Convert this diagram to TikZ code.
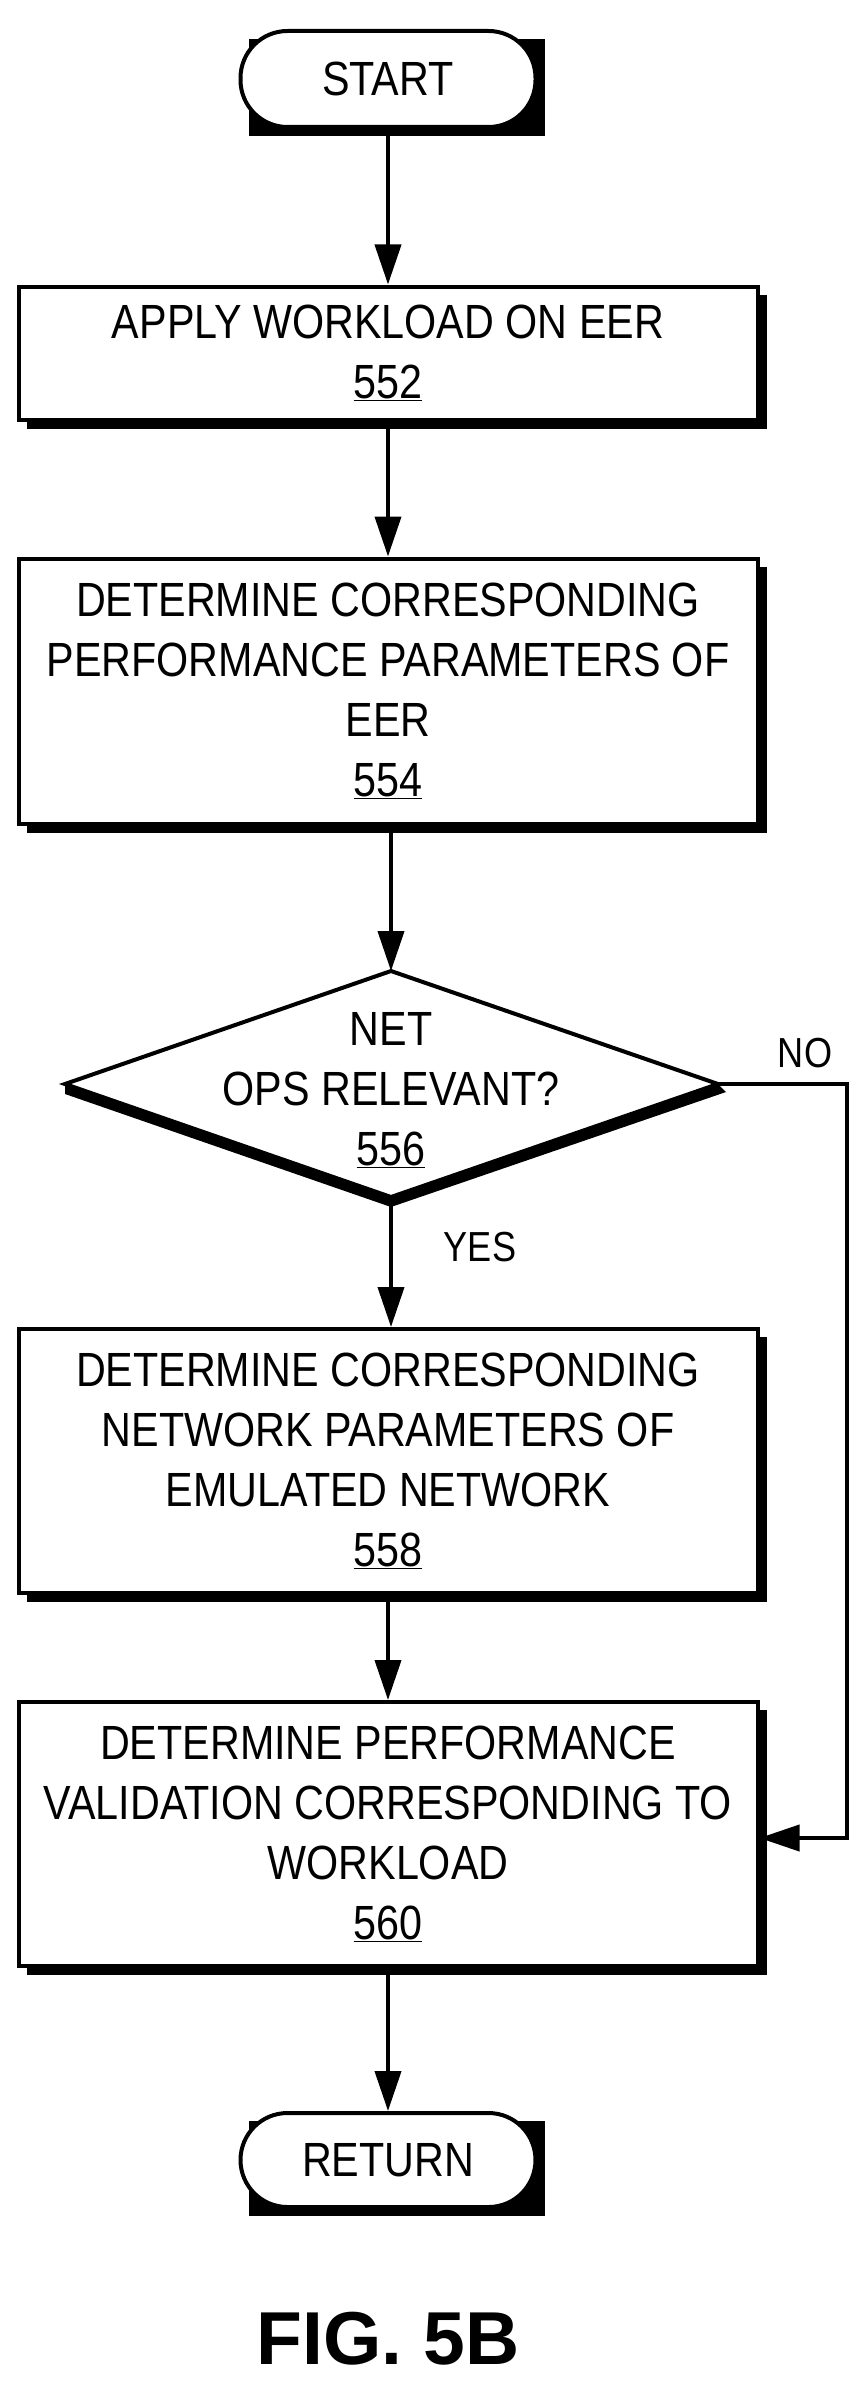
\documentclass[tikz,border=0pt]{standalone}
\usepackage{fontspec}
\setmainfont{Liberation Sans}[FakeStretch=0.86]
\newfontfamily\figfont{Liberation Sans}
\usetikzlibrary{shapes.geometric,arrows.meta}
\begin{document}
\begin{tikzpicture}[x=1pt,y=-1pt,
  box/.style={draw,line width=4pt,fill=white,align=center,font=\fontsize{48}{60}\selectfont},
  term/.style={draw,line width=4pt,fill=white,rounded corners=47pt,font=\fontsize{48}{60}\selectfont},
  arr/.style={line width=4pt,-{Triangle[length=40pt,width=26pt]}}]
\useasboundingbox (0,0) rectangle (850,2392);
% shadows
\fill (249,39) rectangle (545,136);
\fill (27,295) rectangle (767,429);
\fill (27,567) rectangle (767,833);
\fill (27,1337) rectangle (767,1602);
\fill (27,1710) rectangle (767,1975);
\fill (249,2121) rectangle (545,2216);
\fill (65,1094) -- (391,1207) -- (726,1092) -- (718,1084) -- (391,1197) -- (65,1084) -- cycle;
% nodes
\node[term,minimum width=295pt,minimum height=96pt] (start) at (388,79) {START};
\node[box,minimum width=739pt,minimum height=133pt] (b552) at (388,353) {APPLY WORKLOAD ON EER\\\underline{552}};
\node[box,minimum width=739pt,minimum height=265pt] (b554) at (388,691) {DETERMINE CORRESPONDING\\PERFORMANCE PARAMETERS OF\\EER\\\underline{554}};
\draw[line width=4pt,fill=white] (65,1084) -- (391,971) -- (718,1084) -- (391,1197) -- cycle;
\coordinate (dtop) at (391,971);
\coordinate (dbot) at (391,1197);
\coordinate (dright) at (718,1084);
\coordinate (bend) at (847,1084);
\node[align=center,font=\fontsize{48}{60}\selectfont] (d556) at (391,1090) {NET\\OPS RELEVANT?\\\underline{556}};
\node[box,minimum width=739pt,minimum height=264pt] (b558) at (388,1461) {DETERMINE CORRESPONDING\\NETWORK PARAMETERS OF\\EMULATED NETWORK\\\underline{558}};
\node[box,minimum width=739pt,minimum height=264pt] (b560) at (388,1834) {DETERMINE PERFORMANCE\\VALIDATION CORRESPONDING TO\\WORKLOAD\\\underline{560}};
\node[term,minimum width=295pt,minimum height=94pt] (ret) at (388,2160) {RETURN};
\node[font=\figfont\bfseries\fontsize{75}{80}\selectfont] (fig) at (388,2339) {FIG. 5B};
\node[font=\fontsize{42}{48}\selectfont] (yes) at (480,1247) {YES};
\node[font=\fontsize{42}{48}\selectfont] (no) at (805,1053) {NO};
% connectors
\draw[arr] (start) -- (b552);
\draw[arr] (b552) -- (b554);
\draw[arr] (b554.south -| dtop) -- (dtop);
\draw[arr] (dbot) -- (b558.north -| dbot);
\draw[arr] (b558) -- (b560);
\draw[arr] (b560) -- (ret);
\draw[arr] (dright) -- (bend) |- (b560.east |- 0,1838);
\end{tikzpicture}
\end{document}
